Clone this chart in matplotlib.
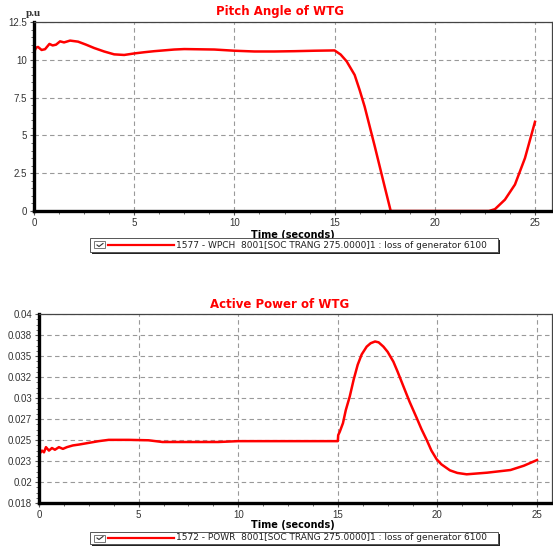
import matplotlib
matplotlib.use('Agg')
import matplotlib.pyplot as plt
from matplotlib.ticker import AutoMinorLocator, FixedLocator, FixedFormatter
from matplotlib.patches import Rectangle
from matplotlib.lines import Line2D

plt.rcParams['font.family'] = ['Liberation Sans', 'DejaVu Sans']
WIDE = ['DejaVu Sans']

# pitch angle of WTG (p.u)
t_pitch = [0, 0.1, 0.2, 0.38, 0.55, 0.77, 0.93, 1.1, 1.3, 1.5, 1.8, 2.2, 2.6, 3.0, 3.5,
           4.0, 4.5, 5.0, 5.5, 6.0, 7.0, 7.5, 8.0, 9.0, 10.0, 11.0, 12.0, 13.0, 14.0,
           15.0, 15.3, 15.6, 16.0, 16.25, 16.5, 16.75, 17.0, 17.25, 17.5, 17.8, 20.0,
           22.7, 23.0, 23.5, 24.0, 24.5, 25.0]
pitch = [10.5, 10.8, 10.85, 10.65, 10.7, 11.05, 10.95, 11.0, 11.22, 11.15, 11.27, 11.2,
         11.0, 10.78, 10.55, 10.36, 10.32, 10.42, 10.5, 10.57, 10.68, 10.71, 10.7, 10.68,
         10.6, 10.55, 10.55, 10.57, 10.6, 10.62, 10.35, 9.9, 9.0, 8.0, 6.9, 5.6, 4.3,
         2.95, 1.6, 0.0, 0.0, 0.0, 0.12, 0.75, 1.75, 3.5, 5.9]

# active power of WTG
t_power = [0, 0.05, 0.15, 0.25, 0.35, 0.5, 0.65, 0.8, 1.0, 1.2, 1.4, 1.7, 2.0, 2.5, 3.0,
           3.5, 4.5, 5.5, 6.2, 7.0, 8.0, 9.0, 10.0, 10.5, 11.0, 12.0, 13.0, 14.0, 15.0,
           15.02, 15.1, 15.26, 15.4, 15.6, 15.8, 16.0, 16.2, 16.45, 16.65, 16.87, 17.05,
           17.29, 17.5, 17.79, 18.0, 18.29, 18.6, 18.96, 19.2, 19.47, 19.7, 19.96, 20.2,
           20.63, 21.0, 21.47, 22.5, 23.67, 24.34, 25.0]
power = [0.0233, 0.0238, 0.0241, 0.0239, 0.0245, 0.0241, 0.0244, 0.0242, 0.0245, 0.0243,
         0.0245, 0.0247, 0.0248, 0.0250, 0.0252, 0.02535, 0.02535, 0.0253, 0.0251, 0.0251,
         0.0251, 0.0251, 0.0252, 0.0252, 0.0252, 0.0252, 0.0252, 0.0252, 0.0252,
         0.0259, 0.0263, 0.0273, 0.0288, 0.0304, 0.0324, 0.0341, 0.0353, 0.0362, 0.0366,
         0.0368, 0.0367, 0.0362, 0.0356, 0.03445, 0.0333, 0.0316, 0.0298, 0.0279, 0.0266,
         0.0253, 0.0241, 0.0231, 0.0225, 0.0218, 0.0215, 0.02134, 0.02153, 0.02184,
         0.02234, 0.0230]

power_ticks = [0.018 + k * 0.022 / 9 for k in range(10)]
power_labels = ['0.018', '0.02', '0.023', '0.025', '0.027', '0.03', '0.032', '0.035', '0.038', '0.04']
pitch_ticks = [0, 2.5, 5, 7.5, 10, 12.5]
pitch_labels = ['0', '2.5', '5', '7.5', '10', '12.5']
x_ticks = [0, 5, 10, 15, 20, 25]

pitch_legend = '1577 - WPCH  8001[SOC TRANG 275.0000]1 : loss of generator 6100'
power_legend = '1572 - POWR  8001[SOC TRANG 275.0000]1 : loss of generator 6100'

W, H = 553, 546
fig = plt.figure(figsize=(W / 100, H / 100), dpi=100)

def fx(x):
    return x / W

def fy(y):
    return 1 - y / H

ax1 = fig.add_axes([fx(34), fy(211), fx(552) - fx(34), fy(22) - fy(211)])
ax2 = fig.add_axes([fx(39), fy(503), fx(552) - fx(39), fy(314) - fy(503)])

def style(ax, xmax, yticks, ylabels, ymin, ymax, yminor):
    ax.set_xlim(0, xmax)
    ax.set_ylim(ymin, ymax)
    ax.xaxis.set_major_locator(FixedLocator(x_ticks))
    ax.xaxis.set_minor_locator(AutoMinorLocator(4))
    ax.yaxis.set_major_locator(FixedLocator(yticks))
    ax.yaxis.set_major_formatter(FixedFormatter(ylabels))
    ax.yaxis.set_minor_locator(AutoMinorLocator(yminor))
    ax.grid(True, which='major', color='#999999', linestyle=(0, (4, 3)), linewidth=0.8)
    ax.tick_params(which='both', direction='out', colors='#555555', labelcolor='#333333',
                   labelsize=7, pad=2)
    ax.tick_params(which='major', length=3)
    ax.tick_params(which='minor', length=2)
    for s in ['left', 'bottom']:
        ax.spines[s].set_linewidth(2.4)
        ax.spines[s].set_color('black')
    for s in ['top', 'right']:
        ax.spines[s].set_linewidth(0.9)
        ax.spines[s].set_color('#444444')
    ax.set_xlabel('Time (seconds)', fontsize=7, fontweight='bold', family=WIDE)

style(ax1, (552 - 34) / 20.04, pitch_ticks, pitch_labels, 0, 12.5, 5)
style(ax2, (552 - 39) / 19.92, power_ticks, power_labels, 0.018, 0.04, 4)

ax1.plot(t_pitch, pitch, color='red', linewidth=1.8, solid_joinstyle='round')
ax2.plot(t_power, power, color='red', linewidth=1.8, solid_joinstyle='round')

ax1.xaxis.set_label_coords((293 - 34) / (552 - 34), -19 / 189)
ax2.xaxis.set_label_coords((293 - 39) / (552 - 39), -17.5 / 189)

fig.text(fx(280), fy(12), 'Pitch Angle of WTG', color='red', fontsize=8.5,
         fontweight='bold', ha='center', va='center', family=WIDE)
fig.text(fx(280), fy(305), 'Active Power of WTG', color='red', fontsize=8.5,
         fontweight='bold', ha='center', va='center', family=WIDE)
fig.text(fx(33), fy(13), 'p.u', fontsize=8, fontweight='bold', ha='center', va='center',
         family=['Liberation Serif', 'DejaVu Serif'], color='#333333')

def legend_box(y0, y1, label):
    # shadow, box, check box, line sample and text
    fig.patches.append(Rectangle((fx(92), fy(y1 + 2)), fx(500) - fx(92), fy(y0 + 2) - fy(y1 + 2),
                                 transform=fig.transFigure, facecolor='#222222',
                                 edgecolor='none', zorder=1))
    fig.patches.append(Rectangle((fx(90), fy(y1)), fx(498) - fx(90), fy(y0) - fy(y1),
                                 transform=fig.transFigure, facecolor='white',
                                 edgecolor='#555555', linewidth=0.7, zorder=2))
    yc = (y0 + y1) / 2
    fig.patches.append(Rectangle((fx(94), fy(yc + 3.5)), fx(105) - fx(94), fy(yc - 3.5) - fy(yc + 3.5),
                                 transform=fig.transFigure, facecolor='white',
                                 edgecolor='#777777', linewidth=0.7, zorder=3))
    fig.lines.append(Line2D([fx(97), fx(99), fx(103)], [fy(yc), fy(yc + 1.5), fy(yc - 1.5)],
                            transform=fig.transFigure, color='#333333', linewidth=0.8, zorder=4))
    fig.lines.append(Line2D([fx(108), fx(174)], [fy(yc), fy(yc)], transform=fig.transFigure,
                            color='red', linewidth=1.6, zorder=4))
    fig.text(fx(176), fy(yc), label, fontsize=6.5, ha='left', va='center', color='#222222',
             zorder=5, family=WIDE)

legend_box(238, 252, pitch_legend)
legend_box(532, 544, power_legend)

fig.savefig('out.png', dpi=100)
